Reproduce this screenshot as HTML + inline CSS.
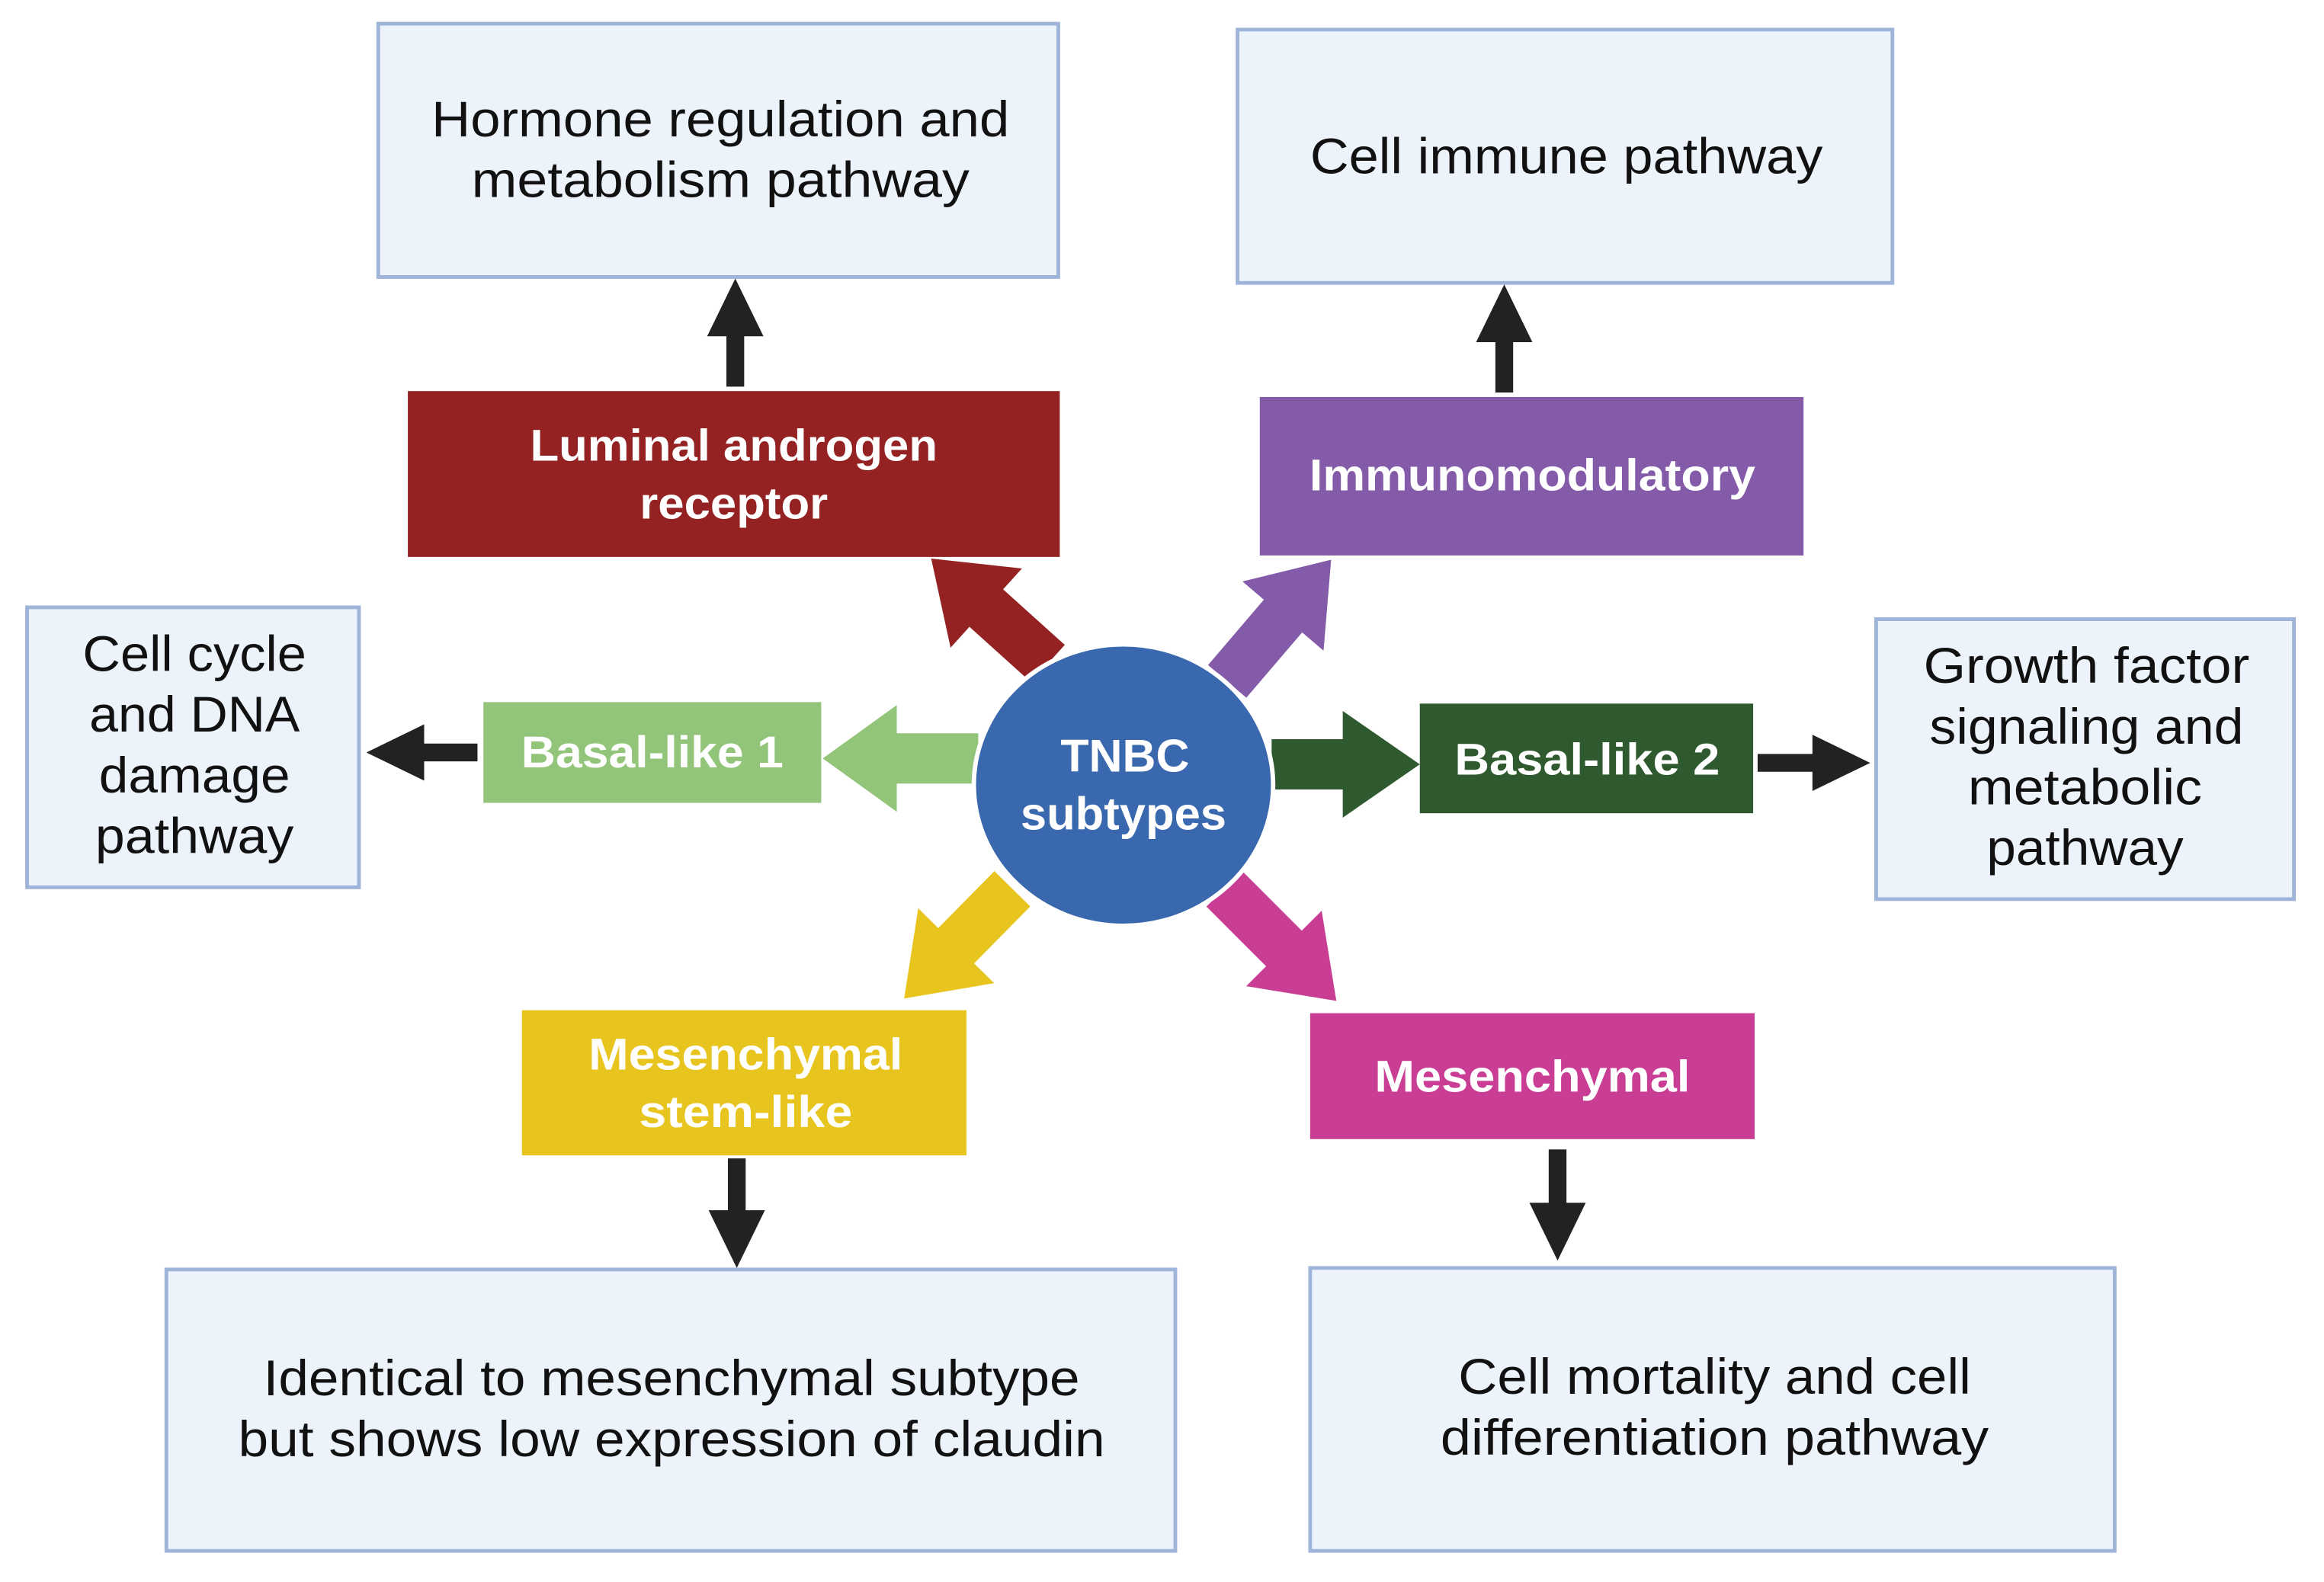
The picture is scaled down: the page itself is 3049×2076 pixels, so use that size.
<!DOCTYPE html>
<html><head><meta charset="utf-8"><style>
html,body{margin:0;padding:0;background:#fff;}
svg{display:block;}
text{font-family:"Liberation Sans",sans-serif;}
.b{fill:#edf3fb;stroke:#9fb4d9;stroke-width:2.5;}
.t{font-size:34px;fill:#111;text-anchor:middle;}
.w{font-size:30px;fill:#fff;font-weight:bold;text-anchor:middle;}
</style></head><body>
<svg width="3049" height="2076" viewBox="0 0 1568 1068" xmlns="http://www.w3.org/2000/svg">
<rect width="1568" height="1068" fill="#fff"/>
<rect class="b" x="255" y="16" width="459" height="171"/>
<text class="t" x="486" y="92" textLength="390" lengthAdjust="spacingAndGlyphs">Hormone regulation and</text>
<text class="t" x="486" y="133" textLength="336" lengthAdjust="spacingAndGlyphs">metabolism pathway</text>
<rect class="b" x="835" y="20" width="442" height="171"/>
<text class="t" x="1057" y="117" textLength="346" lengthAdjust="spacingAndGlyphs">Cell immune pathway</text>
<rect class="b" x="18" y="410" width="224" height="189"/>
<text class="t" x="131" y="453" textLength="151" lengthAdjust="spacingAndGlyphs">Cell cycle</text>
<text class="t" x="131" y="494" textLength="142" lengthAdjust="spacingAndGlyphs">and DNA</text>
<text class="t" x="131" y="535" textLength="129" lengthAdjust="spacingAndGlyphs">damage</text>
<text class="t" x="131" y="576" textLength="134" lengthAdjust="spacingAndGlyphs">pathway</text>
<rect class="b" x="1266" y="418" width="282" height="189"/>
<text class="t" x="1408" y="461" textLength="220" lengthAdjust="spacingAndGlyphs">Growth factor</text>
<text class="t" x="1408" y="502" textLength="212" lengthAdjust="spacingAndGlyphs">signaling and</text>
<text class="t" x="1407" y="543" textLength="158" lengthAdjust="spacingAndGlyphs">metabolic</text>
<text class="t" x="1407" y="584" textLength="133" lengthAdjust="spacingAndGlyphs">pathway</text>
<rect class="b" x="112" y="857" width="681" height="190"/>
<text class="t" x="453" y="942" textLength="551" lengthAdjust="spacingAndGlyphs">Identical to mesenchymal subtype</text>
<text class="t" x="453" y="983" textLength="585" lengthAdjust="spacingAndGlyphs">but shows low expression of claudin</text>
<rect class="b" x="884" y="856" width="543" height="191"/>
<text class="t" x="1157" y="941" textLength="346" lengthAdjust="spacingAndGlyphs">Cell mortality and cell</text>
<text class="t" x="1157" y="982" textLength="370" lengthAdjust="spacingAndGlyphs">differentiation pathway</text>
<rect x="275" y="264" width="440" height="112" fill="#952222"/>
<text class="w" x="495" y="311" textLength="275" lengthAdjust="spacingAndGlyphs">Luminal androgen</text>
<text class="w" x="495" y="350" textLength="127" lengthAdjust="spacingAndGlyphs">receptor</text>
<rect x="850" y="268" width="367" height="107" fill="#845ba8"/>
<text class="w" x="1034" y="331" textLength="301" lengthAdjust="spacingAndGlyphs">Immunomodulatory</text>
<rect x="326" y="474" width="228" height="68" fill="#92c47a"/>
<text class="w" x="440" y="518" textLength="177" lengthAdjust="spacingAndGlyphs">Basal-like 1</text>
<rect x="958" y="475" width="225" height="74" fill="#2f5a2f"/>
<text class="w" x="1071" y="523" textLength="179" lengthAdjust="spacingAndGlyphs">Basal-like 2</text>
<rect x="352" y="682" width="300" height="98" fill="#e8c41e"/>
<text class="w" x="503" y="722" textLength="212" lengthAdjust="spacingAndGlyphs">Mesenchymal</text>
<text class="w" x="503" y="761" textLength="144" lengthAdjust="spacingAndGlyphs">stem-like</text>
<rect x="884" y="684" width="300" height="85" fill="#c93d94"/>
<text class="w" x="1034" y="737" textLength="213" lengthAdjust="spacingAndGlyphs">Mesenchymal</text>
<g fill="#222">
<g transform="translate(496,261) rotate(-90)"><polygon points="0,-6 34,-6 34,-19 73,0 34,19 34,6 0,6"/></g>
<g transform="translate(1015,265) rotate(-90)"><polygon points="0,-6 34,-6 34,-19 73,0 34,19 34,6 0,6"/></g>
<g transform="translate(322,508) rotate(180)"><polygon points="0,-6 36,-6 36,-19 75,0 36,19 36,6 0,6"/></g>
<g transform="translate(1186,515)"><polygon points="0,-6 37,-6 37,-19 76,0 37,19 37,6 0,6"/></g>
<g transform="translate(497,782) rotate(90)"><polygon points="0,-6 35,-6 35,-19 74,0 35,19 35,6 0,6"/></g>
<g transform="translate(1051,776) rotate(90)"><polygon points="0,-6 36,-6 36,-19 75,0 36,19 36,6 0,6"/></g>
</g>
<g transform="translate(707,448) rotate(-138)"><polygon fill="#952222" points="0,-17 56,-17 56,-36 106,0 56,36 56,17 0,17"/></g>
<g transform="translate(828,460) rotate(-49.5)"><polygon fill="#845ba8" points="0,-17 58,-17 58,-36 108,0 58,36 58,17 0,17"/></g>
<g transform="translate(660,512) rotate(180)"><polygon fill="#92c47a" points="0,-17 55,-17 55,-36 105,0 55,36 55,17 0,17"/></g>
<g transform="translate(858,516)"><polygon fill="#2f5a2f" points="0,-17 48,-17 48,-36 100,0 48,36 48,17 0,17"/></g>
<g transform="translate(683,600) rotate(134.6)"><polygon fill="#e8c41e" points="0,-17 54,-17 54,-36 104,0 54,36 54,17 0,17"/></g>
<g transform="translate(826,600) rotate(45)"><polygon fill="#c93d94" points="0,-17 57,-17 57,-36 107,0 57,36 57,17 0,17"/></g>
<ellipse cx="758" cy="530" rx="101" ry="95" fill="#3a68ae" stroke="#fff" stroke-width="3"/>
<text class="w" x="759" y="521" style="font-size:31px" textLength="87" lengthAdjust="spacingAndGlyphs">TNBC</text>
<text class="w" x="758" y="560" style="font-size:31px" textLength="139" lengthAdjust="spacingAndGlyphs">subtypes</text>
</svg>
</body></html>
